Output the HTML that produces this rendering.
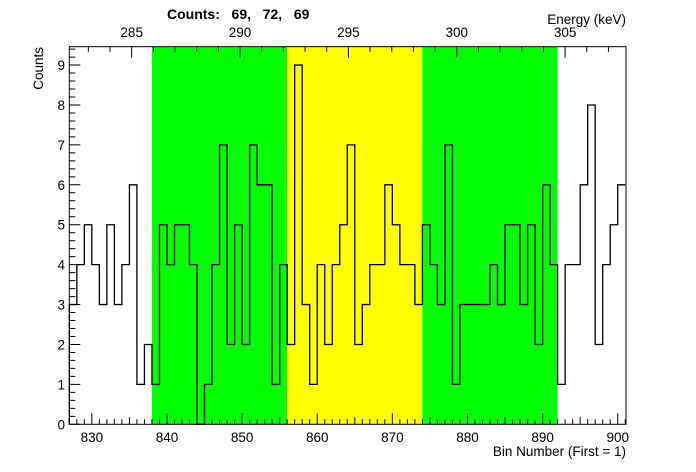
<!DOCTYPE html>
<html><head><meta charset="utf-8"><style>
html,body{margin:0;padding:0;background:#fff;}
svg{display:block;font-family:"Liberation Sans",Arial,sans-serif;}
</style></head><body>
<svg id="chart" width="696" height="472" viewBox="0 0 696 472" xmlns="http://www.w3.org/2000/svg">
<g id="bands"></g>
<g id="hist"></g>
<g id="axes"></g>
<text x="167" y="19" font-size="14" font-weight="bold" xml:space="preserve">Counts:   69,   72,   69</text>
<text x="626" y="24" font-size="13.5" text-anchor="end">Energy (keV)</text>
<text x="626" y="456" font-size="13.5" text-anchor="end">Bin Number (First = 1)</text>
<text transform="translate(43,47) rotate(-90)" font-size="13.5" text-anchor="end">Counts</text>
</svg>
<script>
const binStart = 827;
const counts = [3,4,5,4,3,5,3,4,6,1,2,1,5,4,5,5,4,0,1,4,7,2,5,2,7,6,6,1,4,2,9,3,1,4,2,4,5,7,2,3,4,4,6,5,4,4,3,5,4,3,7,1,3,3,3,3,4,3,5,5,3,5,2,6,4,1,4,4,6,8,2,4,5,6];
const bandEdges = [838,856,874,892];
const bandColors = ['#00ff00','#ffff00','#00ff00'];
const xTicks = [830,840,850,860,870,880,890,900];
const yTicks = [0,1,2,3,4,5,6,7,8,9];
const eTicks = [285,290,295,300,305];

const L=69.3,R=626,T=46.7,B=424.3;
const xMin=827,xMax=901.1,yMax=9.46;
const eRef=285,eRefPx=131.7,ePx=21.67;
const X=v=>L+(v-xMin)*(R-L)/(xMax-xMin);
const Y=v=>B-v*(B-T)/yMax;
const E=v=>eRefPx+(v-eRef)*ePx;
const NS='http://www.w3.org/2000/svg';
function mk(tag,attrs,parent){const e=document.createElementNS(NS,tag);for(const k in attrs)e.setAttribute(k,attrs[k]);parent.appendChild(e);return e;}
const bands=document.getElementById('bands');
for(let i=0;i<bandColors.length;i++){
  const r=mk('rect',{x:X(bandEdges[i]),y:T,width:X(bandEdges[i+1])-X(bandEdges[i]),height:B-T,fill:bandColors[i]},bands);
  
  
}
let d='M'+X(binStart)+','+Y(0);
counts.forEach((c,i)=>{d+=' L'+X(binStart+i)+','+Y(c)+' L'+Math.min(R,X(binStart+i+1))+','+Y(c);});
const p=mk('path',{d:d,fill:'none',stroke:'#000','stroke-width':1.3},document.getElementById('hist'));


const ax=document.getElementById('axes');
const fr=mk('rect',{x:L,y:T,width:R-L,height:B-T,fill:'none',stroke:'#000','stroke-width':1},ax);


let td='';
for(let v=828;v<=901;v++){const len=(v%10===0)?11:(v%5===0?7:5);td+='M'+X(v)+','+B+' v'+(-len)+' ';}
for(let v=0;v<=9.4;v=Math.round((v+0.2)*10)/10){const len=(Math.abs(v-Math.round(v))<1e-6)?11:6;td+='M'+L+','+Y(v)+' h'+len+' ';}
for(let v=282;v<=308;v++){const x=E(v);if(x<L||x>R)continue;const len=(v%5===0)?11:5;td+='M'+x+','+T+' v'+len+' ';}
const tk=mk('path',{d:td,stroke:'#000','stroke-width':1,fill:'none'},ax);


xTicks.forEach(v=>{const t=mk('text',{x:X(v),y:442,'font-size':13.5,'text-anchor':'middle'},ax);t.textContent=v;

});
yTicks.forEach(v=>{const t=mk('text',{x:65,y:Y(v)+5,'font-size':13.5,'text-anchor':'end'},ax);t.textContent=v;

});
eTicks.forEach(v=>{const t=mk('text',{x:E(v),y:37,'font-size':13.5,'text-anchor':'middle'},ax);t.textContent=v;

});
</script>
</body></html>
